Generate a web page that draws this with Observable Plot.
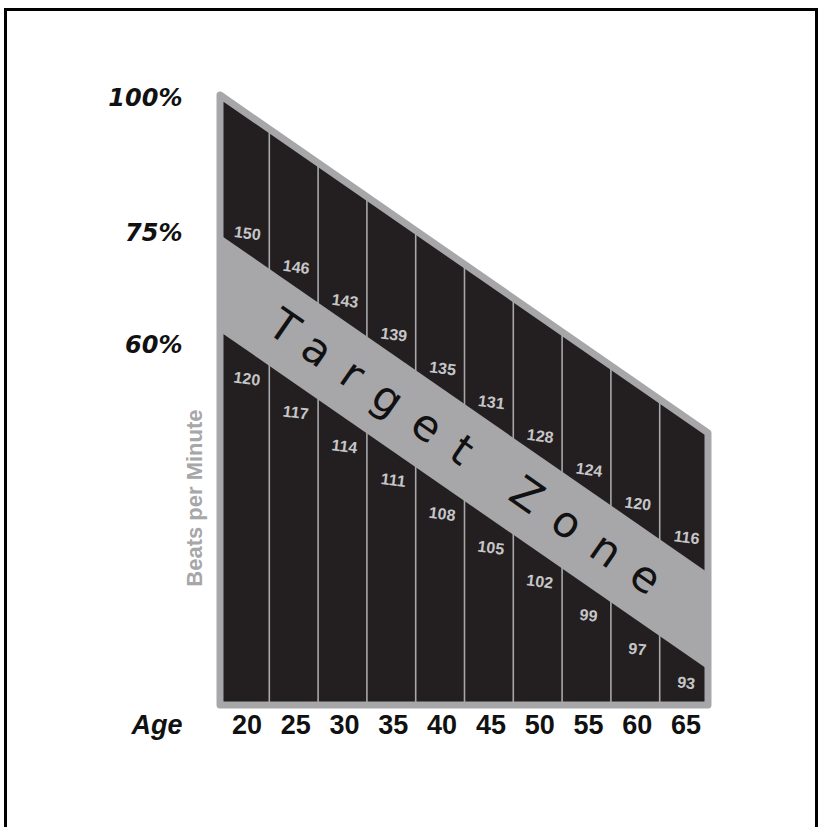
<!DOCTYPE html>
<html>
<head>
<meta charset="utf-8">
<script src="https://cdn.jsdelivr.net/npm/d3@7"></script>
<script src="https://cdn.jsdelivr.net/npm/@observablehq/plot@0.6"></script>
<style>
  html, body { margin: 0; padding: 0; background: #fff; overflow: hidden; }
  #wrap { position: relative; width: 820px; height: 827px; }
  #frame { position: absolute; left: 4px; top: 8px; width: 808px; height: 900px; border: 3px solid #000; box-sizing: content-box; pointer-events: none; }
  #chart { position: absolute; left: 0; top: 0; }
</style>
</head>
<body>
<div id="wrap">
  <div id="chart"></div>
  <div id="frame"></div>
</div>
<script>
// ---- data ----
const ages = [20, 25, 30, 35, 40, 45, 50, 55, 60, 65];
const upperBpm = [150, 146, 143, 139, 135, 131, 128, 124, 120, 116]; // 75% values
const lowerBpm = [120, 117, 114, 111, 108, 105, 102, 99, 97, 93];    // 60% values
const percentTicks = ["100%", "75%", "60%"];
const percentLevels = [99.5, 77.4, 59];
const edgeAges = [17.5, 67.5];        // left and right edges of the chart
const topLevels = [100, 44.6];        // top edge height at left / right
const zoneTopLevels = [77.1, 21.7];   // upper edge of the target zone
const zoneBottomLevels = [61.2, 5.8]; // lower edge of the target zone
const zoneLabel = "Target Zone";
const yTitle = "Beats per Minute";
const yTitleLevel = 34;
const xTitle = "Age";

// ---- helpers ----
const dark = "#231f20";
const gray = "#a7a6a9";
const edges = edgeAges.map((a, i) => ({age: a, top: topLevels[i], zt: zoneTopLevels[i], zb: zoneBottomLevels[i]}));
const topAt = d3.scaleLinear(edgeAges, topLevels);
const zoneTopAt = d3.scaleLinear(edgeAges, zoneTopLevels);
const zoneBottomAt = d3.scaleLinear(edgeAges, zoneBottomLevels);
const dividers = ages.slice(1).map(a => a - 2.5);
const midAge = (edgeAges[0] + edgeAges[1]) / 2;
const sans = "Liberation Sans, Arial, sans-serif";

const chart = Plot.plot({
  width: 820,
  height: 827,
  marginLeft: 220,
  marginRight: 112,
  marginTop: 95,
  marginBottom: 122,
  x: {domain: edgeAges, axis: null},
  y: {domain: [0, 100], axis: null},
  marks: [
    Plot.areaY(edges, {x: "age", y1: 0, y2: "top", fill: dark}),
    Plot.ruleX(dividers, {x: d => d, y1: 0, y2: d => topAt(d), stroke: gray, strokeWidth: 1.6}),
    Plot.areaY(edges, {x: "age", y1: "zb", y2: "zt", fill: gray}),
    Plot.areaY(edges, {x: "age", y1: 0, y2: "top", fill: "none", stroke: gray, strokeWidth: 7, strokeLinejoin: "round"}),
    Plot.text(ages, {x: d => d, y: d => zoneTopAt(d), text: (d, i) => String(upperBpm[i]), dx: 2.5, dy: -18.5, rotate: 7,
      fill: "#c6c6c8", fontSize: 16, fontWeight: "bold", fontFamily: sans}),
    Plot.text(ages, {x: d => d, y: d => zoneBottomAt(d), text: (d, i) => String(lowerBpm[i]), dx: 2, dy: 30, rotate: 7,
      fill: "#c6c6c8", fontSize: 16, fontWeight: "bold", fontFamily: sans}),
    Plot.text([zoneLabel], {x: midAge, y: (zoneTopAt(midAge) + zoneBottomAt(midAge)) / 2, text: d => d, rotate: 34.7,
      fill: "#111", fontSize: 43, fontFamily: "DejaVu Sans, sans-serif"}),
    Plot.text(ages, {x: d => d, frameAnchor: "bottom", dy: 28, dx: 2, text: d => String(d),
      fill: "#111", fontSize: 27, fontWeight: "bold", fontFamily: sans}),
    Plot.text([xTitle], {frameAnchor: "bottom-left", dx: -38, dy: 28, textAnchor: "end", text: d => d,
      fill: "#111", fontSize: 27, fontWeight: "bold", fontStyle: "italic", fontFamily: sans}),
    Plot.text(percentTicks, {frameAnchor: "left", y: (d, i) => percentLevels[i], dx: -38, textAnchor: "end", text: d => d,
      fill: "#111", fontSize: 24, fontWeight: "bold", fontStyle: "italic", fontFamily: "DejaVu Sans, sans-serif"}),
    Plot.text([yTitle], {frameAnchor: "left", y: yTitleLevel, dx: -26, rotate: -90, textAnchor: "middle", text: d => d,
      fill: "#a7a6a9", fontSize: 22, fontWeight: "bold", fontFamily: sans})
  ]
});

// wide letter spacing on the zone label
d3.select(chart).selectAll("text")
  .filter(function() { return this.textContent === zoneLabel; })
  .attr("letter-spacing", "21px")
  .attr("dx", "10.5px");

document.getElementById("chart").appendChild(chart);
</script>
</body>
</html>
